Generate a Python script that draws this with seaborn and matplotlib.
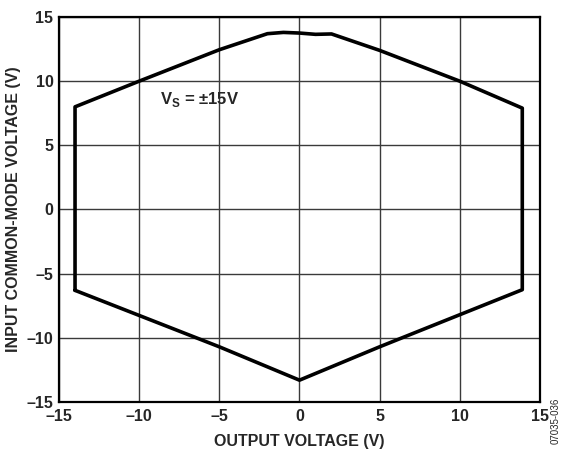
import matplotlib
matplotlib.use("Agg")
import matplotlib.pyplot as plt
import seaborn as sns
import pandas as pd

# Data (closed boundary of the common-mode range)
output_voltage = [-14.0, -14.0, -10.0, -5.0, -2.0, -1.0, 0.0, 1.0, 2.0, 5.0, 10.0, 13.9, 13.9, 5.0, 0.0, -5.0, -14.0]
input_cm_voltage = [-6.3, 8.0, 10.0, 12.45, 13.7, 13.8, 13.75, 13.65, 13.68, 12.4, 10.0, 7.9, -6.25, -10.7, -13.3, -10.7, -6.3]
x_ticks = [-15, -10, -5, 0, 5, 10, 15]
y_ticks = [-15, -10, -5, 0, 5, 10, 15]

df = pd.DataFrame({"x": output_voltage, "y": input_cm_voltage})

sns.set_theme(style="white")
plt.rcParams["font.family"] = ["Liberation Sans", "DejaVu Sans"]
plt.rcParams["mathtext.fontset"] = "custom"
plt.rcParams["mathtext.bf"] = "Liberation Sans:bold"
plt.rcParams["mathtext.rm"] = "Liberation Sans"

fig = plt.figure(figsize=(5.63, 4.5), dpi=100)
ax = fig.add_axes([0.1048, 0.1067, 0.8542, 0.8555])

sns.lineplot(data=df, x="x", y="y", sort=False, estimator=None, color="black", linewidth=2.6, ax=ax)

ax.set_xlim(-15, 15)
ax.set_ylim(-15, 15)
ax.set_xticks(x_ticks)
ax.set_yticks(y_ticks)
ax.set_xticklabels([f"{v}".replace("-", "\u2013") for v in x_ticks], fontsize=11.5, fontweight="bold")
ax.set_yticklabels([f"{v}".replace("-", "\u2013") for v in y_ticks], fontsize=11.5, fontweight="bold")
ax.tick_params(axis="x", length=0, pad=5)
ax.tick_params(axis="y", length=0, pad=4)
ax.grid(True, color="#3a3a3a", linewidth=1.0)
for s in ax.spines.values():
    s.set_color("black")
    s.set_linewidth(1.6)

ax.set_xlabel("OUTPUT VOLTAGE (V)", fontsize=11.5, fontweight="bold", labelpad=7)
ax.set_ylabel("INPUT COMMON-MODE VOLTAGE (V)", fontsize=11.5, fontweight="bold", labelpad=4)

ax.text(-8.7, 8.55, "V$_\\mathbf{S}$ = \u00b115V", fontsize=12, fontweight="bold",
        ha="left", va="center")

fig.text(556 / 563, 1 - 398 / 450, "07035-036", rotation=90, fontsize=7, ha="center", va="top")

fig.savefig("out.png", dpi=100)
